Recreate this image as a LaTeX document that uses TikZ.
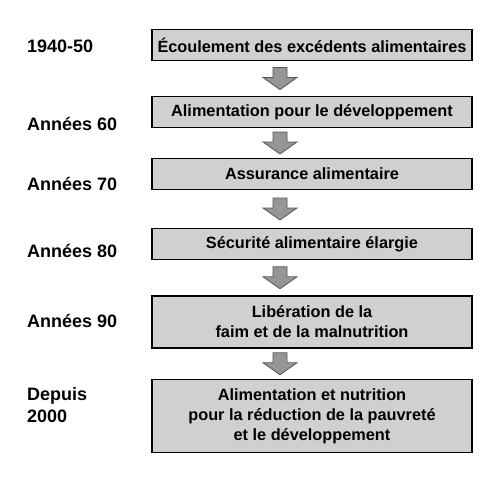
\documentclass[tikz,border=0pt]{standalone}
\usepackage{fontspec}
\setmainfont{Liberation Sans}
\usetikzlibrary{calc}
\definecolor{boxgray}{RGB}{208,208,208}
\definecolor{arrowgray}{RGB}{150,150,150}
\definecolor{arrowedge}{RGB}{85,85,85}

\begin{document}
\begin{tikzpicture}[x=1pt, y=-1pt, inner sep=0pt,
    etape/.style={draw=black, line width=1.6pt, fill=boxgray, minimum width=320pt, minimum height=31pt, align=center, font=\bfseries\fontsize{16.3}{20}\selectfont},
    periode/.style={anchor=west, align=left, font=\bfseries\fontsize{18}{21.5}\selectfont},
    flecha/.pic={\draw [fill=arrowgray, draw=arrowedge, line width=0.8pt] (-7,-11) -- (7,-11) -- (7,-1) -- (17,-1) -- (0,11) -- (-17,-1) -- (-7,-1) -- cycle;}]
    \useasboundingbox (0,0) rectangle (492,504);

    % etapes
    \node [etape] (b1) at (312,45) {Écoulement des excédents alimentaires};
    \node [etape] (b2) at (312,112) {Alimentation pour le développement};
    \node [etape] (b3) at (312,174) {Assurance alimentaire};
    \node [etape] (b4) at (312,244) {Sécurité alimentaire élargie};
    \node [etape, minimum height=52pt] (b5) at (312,322) {Libération de la\\faim et de la malnutrition};
    \node [etape, minimum height=73pt] (b6) at (312,416) {Alimentation et nutrition\\pour la réduction de la pauvreté\\et le développement};

    % periodes
    \node [periode] (p1) at (27,46) {1940-50};
    \node [periode] (p2) at (27,124) {Années 60};
    \node [periode] (p3) at (27,184) {Années 70};
    \node [periode] (p4) at (27,251) {Années 80};
    \node [periode] (p5) at (27,321) {Années 90};
    \node [periode] (p6) at (27,405) {Depuis\\2000};

    \foreach \a/\b in {b1/b2, b2/b3, b3/b4, b4/b5, b5/b6} {%
        \path ($(\a.south)!0.5!(\b.north)$) ++(-32,0) pic {flecha};
    }
\end{tikzpicture}
\end{document}
